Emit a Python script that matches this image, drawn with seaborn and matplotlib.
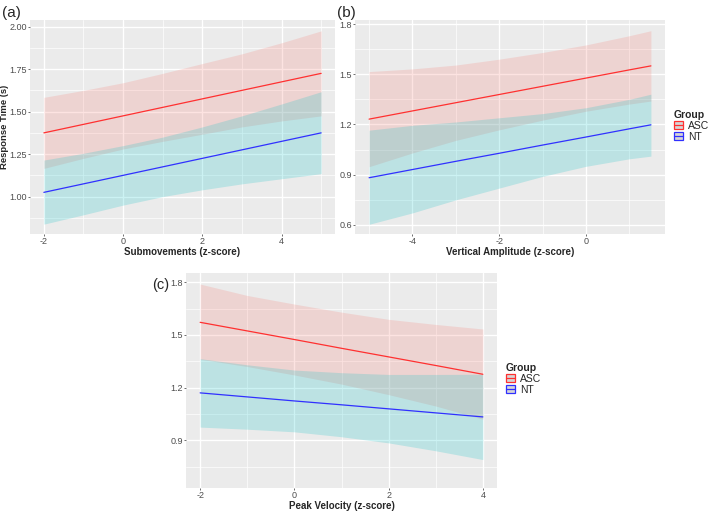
import numpy as np
import pandas as pd
import matplotlib
matplotlib.use("Agg")
import matplotlib.pyplot as plt
import seaborn as sns
from matplotlib.patches import Patch
from matplotlib.lines import Line2D
from matplotlib.legend_handler import HandlerTuple

# -----------------------------
# Data
# -----------------------------
GROUPS = ["ASC", "NT"]

# (a) Submovements
a_x = [-2, -1, 0, 1, 2, 3, 4, 5]
a_asc_fit = [1.375, 1.425, 1.475, 1.525, 1.575, 1.625, 1.675, 1.725]
a_asc_hi = [1.584, 1.625, 1.670, 1.725, 1.783, 1.840, 1.905, 1.975]
a_asc_lo = [1.166, 1.225, 1.280, 1.325, 1.367, 1.410, 1.445, 1.475]
a_nt_fit = [1.025, 1.075, 1.125, 1.175, 1.225, 1.275, 1.325, 1.375]
a_nt_hi = [1.215, 1.255, 1.300, 1.350, 1.410, 1.475, 1.545, 1.617]
a_nt_lo = [0.838, 0.893, 0.950, 1.000, 1.040, 1.075, 1.105, 1.135]

# (b) Vertical amplitude
b_x = [-5, -4, -3, -2, -1, 0, 1, 1.5]
b_asc_fit = [1.232, 1.281, 1.330, 1.379, 1.428, 1.477, 1.526, 1.550]
b_asc_hi = [1.516, 1.532, 1.555, 1.590, 1.630, 1.675, 1.730, 1.760]
b_asc_lo = [0.948, 1.030, 1.105, 1.168, 1.226, 1.279, 1.322, 1.340]
b_nt_fit = [0.882, 0.931, 0.980, 1.028, 1.077, 1.125, 1.174, 1.198]
b_nt_hi = [1.166, 1.195, 1.215, 1.240, 1.265, 1.300, 1.350, 1.381]
b_nt_lo = [0.604, 0.672, 0.750, 0.820, 0.890, 0.950, 0.995, 1.011]

# (c) Peak velocity
c_x = [-2, -1, 0, 1, 2, 3, 4]
c_asc_fit = [1.572, 1.523, 1.474, 1.424, 1.375, 1.326, 1.276]
c_asc_hi = [1.790, 1.725, 1.676, 1.630, 1.589, 1.560, 1.534]
c_asc_lo = [1.362, 1.320, 1.272, 1.220, 1.160, 1.095, 1.020]
c_nt_fit = [1.170, 1.147, 1.124, 1.102, 1.079, 1.056, 1.033]
c_nt_hi = [1.365, 1.330, 1.300, 1.285, 1.275, 1.275, 1.276]
c_nt_lo = [0.975, 0.963, 0.948, 0.920, 0.885, 0.840, 0.790]

# tick values / labels
a_xticks = [-2, 0, 2, 4]
a_yticks = [1.00, 1.25, 1.50, 1.75, 2.00]
a_ylabels = ["1.00", "1.25", "1.50", "1.75", "2.00"]
b_xticks = [-4, -2, 0]
b_yticks = [0.6, 0.9, 1.2, 1.5, 1.8]
b_ylabels = ["0.6", "0.9", "1.2", "1.5", "1.8"]
c_xticks = [-2, 0, 2, 4]
c_yticks = [0.9, 1.2, 1.5, 1.8]
c_ylabels = ["0.9", "1.2", "1.5", "1.8"]

LINE_COLORS = {"ASC": "#ff3030", "NT": "#3030ff"}
FILL_COLORS = {"ASC": "#F8766D", "NT": "#00BFC4"}
BG = "#EBEBEB"


def long_frame(x, fits, his, los):
    rows = []
    for g, fit, hi, lo in zip(GROUPS, fits, his, los):
        for xi, f, h, l in zip(x, fit, hi, lo):
            rows.append({"x": xi, "fit": f, "hi": h, "lo": l, "Group": g})
    return pd.DataFrame(rows)


def draw_panel(ax, df, xlim, ylim, xticks, yticks, ylabels, xminor, yminor,
               xlabel, xlab_y, ylabel=None, ylab_x=None):
    ax.set_facecolor(BG)
    for v in xminor:
        ax.axvline(v, color="white", lw=0.5, zorder=0)
    for v in yminor:
        ax.axhline(v, color="white", lw=0.5, zorder=0)
    for v in xticks:
        ax.axvline(v, color="white", lw=1.0, zorder=0)
    for v in yticks:
        ax.axhline(v, color="white", lw=1.0, zorder=0)

    for g in GROUPS:
        sub = df[df["Group"] == g]
        ax.fill_between(sub["x"], sub["lo"], sub["hi"], color=FILL_COLORS[g],
                        alpha=0.2, lw=0, zorder=1)
    sns.lineplot(data=df, x="x", y="fit", hue="Group", palette=LINE_COLORS,
                 legend=False, ax=ax, lw=0.9, zorder=2)

    ax.set_xlim(*xlim)
    ax.set_ylim(*ylim)
    ax.set_xticks(xticks)
    ax.set_xticklabels([str(t) for t in xticks])
    ax.set_yticks(yticks)
    ax.set_yticklabels(ylabels)
    ax.tick_params(axis="both", which="major", bottom=True, left=True,
                   direction="out", length=1.6, width=0.6, color="#555555",
                   labelcolor="#4D4D4D", labelsize=6.5, pad=0.6)
    for s in ax.spines.values():
        s.set_visible(False)
    ax.grid(False)
    ax.set_xlabel(xlabel, fontsize=7, fontweight="bold")
    ax.xaxis.set_label_coords(0.5, xlab_y)
    if ylabel:
        ax.set_ylabel(ylabel, fontsize=6.8, fontweight="bold")
        ax.yaxis.set_label_coords(ylab_x, 0.5)
    else:
        ax.set_ylabel("")


def add_legend(fig, x, y):
    handles = []
    for g in GROUPS:
        box = Patch(facecolor="#D6D6D6", edgecolor=LINE_COLORS[g], lw=0.9)
        ln = Line2D([], [], color=LINE_COLORS[g], lw=0.9)
        handles.append((box, ln))
    leg = fig.legend(handles, GROUPS, loc="upper left", bbox_to_anchor=(x, y),
                     frameon=False, fontsize=7.5, title="Group",
                     title_fontproperties={"weight": "bold", "size": 7.5},
                     handler_map={tuple: HandlerTuple(ndivide=1, pad=0)},
                     handlelength=0.9, handleheight=0.8, handletextpad=0.45,
                     labelspacing=0.1, borderaxespad=0, borderpad=0)
    leg._legend_box.align = "left"


def main():
    sns.set_theme(style="white")
    plt.rcParams["font.family"] = ["Liberation Sans", "DejaVu Sans"]

    W, H = 709, 511
    fig = plt.figure(figsize=(W / 100, H / 100), dpi=100)

    def box(l, t, r, b):
        return [l / W, 1 - b / H, (r - l) / W, (b - t) / H]

    ax_a = fig.add_axes(box(30, 20, 335, 234))
    ax_b = fig.add_axes(box(355, 20, 665, 234))
    ax_c = fig.add_axes(box(186, 273, 497, 488))

    df_a = long_frame(a_x, [a_asc_fit, a_nt_fit], [a_asc_hi, a_nt_hi], [a_asc_lo, a_nt_lo])
    df_b = long_frame(b_x, [b_asc_fit, b_nt_fit], [b_asc_hi, b_nt_hi], [b_asc_lo, b_nt_lo])
    df_c = long_frame(c_x, [c_asc_fit, c_nt_fit], [c_asc_hi, c_nt_hi], [c_asc_lo, c_nt_lo])

    draw_panel(ax_a, df_a, (-2.35, 5.35), (0.78, 2.039), a_xticks, a_yticks, a_ylabels,
               [-1, 1, 3, 5], [0.875, 1.125, 1.375, 1.625, 1.875],
               "Submovements (z-score)", -13 / 214, "Response Time (s)", -20.5 / 305)
    draw_panel(ax_b, df_b, (-5.325, 1.825), (0.546, 1.824), b_xticks, b_yticks, b_ylabels,
               [-5, -3, -1, 1], [0.75, 1.05, 1.35, 1.65],
               "Vertical Amplitude (z-score)", -13 / 214)
    draw_panel(ax_c, df_c, (-2.3, 4.3), (0.628, 1.853), c_xticks, c_yticks, c_ylabels,
               [-1, 1, 3], [0.75, 1.05, 1.35, 1.65],
               "Peak Velocity (z-score)", -13 / 215)

    add_legend(fig, 674 / W, 1 - 110 / H)
    add_legend(fig, 506 / W, 1 - 363 / H)

    fig.text(2 / W, 1 - 13 / H, "(a)", fontsize=11, va="center", ha="left")
    fig.text(337 / W, 1 - 13 / H, "(b)", fontsize=11, va="center", ha="left")
    fig.text(152 / W, 1 - 285 / H, "(c)", fontsize=10.5, va="center", ha="left")

    fig.savefig("out.png", dpi=100)
    plt.close(fig)


if __name__ == "__main__":
    main()
